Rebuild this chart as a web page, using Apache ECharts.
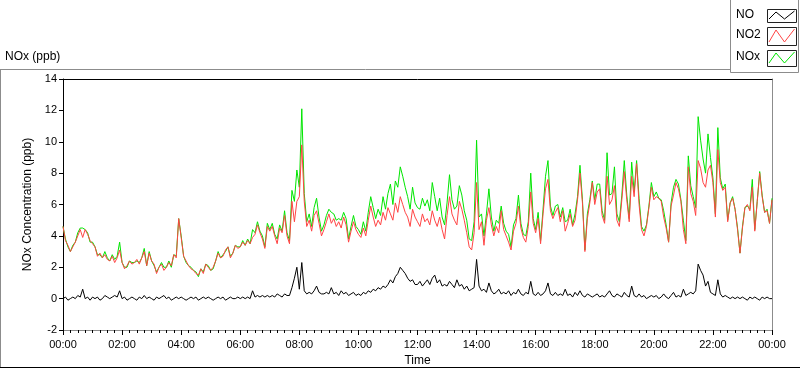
<!DOCTYPE html>
<html>
<head>
<meta charset="utf-8">
<script src="https://cdn.jsdelivr.net/npm/echarts@6/dist/echarts.min.js"></script>
<style>
  html, body { margin: 0; padding: 0; background: #fff; }
  #chart { width: 800px; height: 369px; }
</style>
</head>
<body>
<div id="chart"></div>
<script>
// ---- Data (5-minute samples, 00:00 .. 24:00) ----
const seriesNames = ['NO', 'NO2', 'NOx'];
const sampleMinutes = 5;

const NO2 = [
  4.6, 3.7, 3.4, 3.0, 3.3, 3.6, 4.0, 4.4, 3.9, 4.4, 4.1, 3.7,
  3.5, 3.3, 2.7, 2.9, 2.6, 2.8, 2.5, 2.4, 2.7, 2.3, 2.6, 3.1,
  2.3, 1.9, 2.1, 2.4, 2.2, 2.3, 2.5, 2.2, 2.6, 3.0, 2.1, 2.9,
  2.4, 2.2, 1.6, 2.0, 2.2, 1.8, 2.0, 2.3, 2.1, 2.8, 2.6, 5.1,
  3.9, 2.7, 2.4, 2.1, 1.9, 1.8, 1.6, 1.5, 1.9, 1.6, 2.2, 2.0,
  1.8, 2.0, 2.4, 2.9, 2.6, 2.7, 3.1, 3.3, 2.6, 2.9, 3.4, 3.2,
  3.3, 3.6, 3.4, 3.7, 3.5, 3.9, 4.1, 4.7, 4.2, 3.8, 3.2, 4.6,
  4.3, 4.6, 4.0, 3.5, 4.5, 4.2, 5.3, 4.0, 3.5, 6.2, 4.9, 6.2,
  6.5, 9.8, 6.2, 4.6, 5.0, 4.3, 5.3, 5.6, 4.8, 4.0, 4.4, 4.9,
  5.4, 4.8, 5.1, 4.6, 4.9, 4.5, 5.2, 4.7, 3.6, 4.3, 4.9, 4.4,
  4.1, 3.9, 4.5, 4.0, 5.0, 5.9, 5.2, 4.6, 5.0, 4.7, 5.5, 5.0,
  5.8, 5.4, 5.0, 6.1, 5.5, 6.5, 6.0, 5.5, 5.2, 4.6, 5.7, 5.2,
  4.9, 4.6, 5.4, 4.9, 5.1, 4.7, 5.6, 5.0, 4.6, 5.2, 4.4, 3.8,
  5.3, 6.5, 5.4, 5.0, 4.7, 6.2, 5.7, 5.0, 4.2, 3.3, 3.1, 4.2,
  7.4, 4.4, 4.9, 3.4, 5.0, 5.8, 4.7, 4.0, 4.6, 4.2, 5.6, 4.4,
  4.0, 3.6, 3.1, 4.3, 4.8, 5.9, 4.5, 3.9, 3.6, 4.6, 6.8, 4.8,
  4.2, 5.1, 3.5, 5.4, 7.0, 7.6, 5.6, 5.1, 5.5, 5.8, 4.9, 5.6,
  4.3, 4.8, 5.4, 4.6, 5.0, 6.3, 8.0, 6.1, 3.0, 5.1, 6.1, 7.4,
  6.0, 6.8, 7.0, 5.3, 4.8, 7.8, 6.0, 6.3, 7.2, 5.0, 4.6, 6.3,
  8.1, 6.3, 4.9, 7.8, 6.5, 8.6, 6.0, 4.4, 4.0, 4.6, 5.8, 7.1,
  6.3, 6.5, 6.4, 6.2, 5.2, 4.5, 3.6, 5.9, 6.6, 7.4, 7.0, 6.2,
  4.4, 3.5, 8.4, 6.7, 6.2, 5.3, 8.8, 8.3, 7.4, 7.1, 8.2, 8.5,
  7.4, 5.2, 9.5, 7.4, 6.9, 7.1, 4.9, 6.1, 6.4, 5.7, 4.4, 2.9,
  4.5, 5.8, 6.0, 5.6, 7.1, 4.3, 6.2, 8.0, 6.5, 5.5, 5.6, 4.8,
  6.3
];

const NO = [
  0.0, 0.1, -0.1, 0.0, 0.1, 0.0, 0.2, 0.1, 0.6, 0.0, 0.1, -0.1,
  0.1, 0.0, 0.1, -0.1, 0.0, 0.2, 0.1, 0.0, 0.1, 0.2, 0.1, 0.5,
  0.0, 0.1, -0.1, 0.0, 0.1, 0.0, -0.1, 0.1, 0.0, 0.2, 0.0, 0.1,
  0.0, -0.1, 0.1, 0.0, 0.1, 0.2, 0.0, 0.1, -0.1, 0.0, 0.1, 0.0,
  0.1, 0.0, -0.1, 0.0, 0.1, 0.0, 0.1, -0.1, 0.0, 0.1, 0.0, 0.1,
  0.0, -0.1, 0.0, 0.1, 0.0, 0.1, -0.1, 0.0, 0.1, 0.0, 0.0, 0.1,
  0.0, 0.1, 0.0, 0.1, 0.0, 0.5, 0.1, 0.2, 0.1, 0.2, 0.1, 0.2,
  0.1, 0.2, 0.1, 0.3, 0.2, 0.1, 0.3, 0.2, 0.2, 0.7, 1.3, 2.0,
  0.6, 2.3, 0.5, 0.3, 0.4, 0.3, 0.5, 0.8, 0.4, 0.3, 0.3, 0.4,
  0.3, 0.7, 0.3, 0.4, 0.2, 0.5, 0.3, 0.4, 0.2, 0.3, 0.4, 0.2,
  0.3, 0.2, 0.4, 0.3, 0.5, 0.4, 0.6, 0.5, 0.7, 0.6, 0.8, 0.7,
  0.9, 1.2, 1.0, 1.4, 1.6, 2.0, 1.8, 1.6, 1.3, 1.1, 1.2, 0.9,
  0.9, 1.1, 0.8, 1.0, 1.2, 0.9, 1.3, 1.5, 1.0, 1.2, 0.8, 0.9,
  0.8, 1.1, 0.9, 0.7, 1.2, 0.8, 0.9, 0.6, 0.8, 0.5, 0.6, 0.7,
  2.5, 0.8, 0.5, 0.6, 0.4, 1.0, 0.5, 0.3, 0.4, 0.6, 0.3, 0.4,
  0.3, 0.5, 0.2, 0.4, 0.3, 0.6, 0.3, 0.2, 0.4, 0.3, 1.1, 0.3,
  0.2, 0.4, 0.2, 0.3, 0.5, 1.0, 0.3, 0.2, 0.4, 0.2, 0.3, 0.2,
  0.6, 0.2, 0.3, 0.1, 0.4, 0.2, 0.5, 0.2, 0.1, 0.3, 0.2, 0.1,
  0.2, 0.3, 0.1, 0.2, 0.1, 0.3, 0.5, 0.2, 0.1, 0.3, 0.2, 0.1,
  0.4, 0.2, 0.1, 0.8, 0.2, 0.1, 0.3, 0.1, 0.2, 0.0, 0.1, 0.2,
  0.1, 0.2, 0.0, 0.1, 0.3, 0.1, 0.0, 0.2, 0.4, 0.1, 0.2, 0.1,
  0.6, 0.2, 0.3, 0.4, 0.3, 0.5, 2.2, 1.8, 1.5, 0.8, 1.1, 0.4,
  0.3, 0.2, 1.2, 0.3, 0.1, 0.2, 0.1, 0.0, 0.1, 0.0, 0.1, 0.0,
  0.1, 0.0, -0.1, 0.1, 0.0, 0.1, 0.0, -0.1, 0.1, 0.0, 0.1, 0.0,
  0.0
];

const NOX = [
  4.6, 3.8, 3.3, 3.0, 3.4, 3.6, 4.2, 4.5, 4.5, 4.4, 4.2, 3.6,
  3.6, 3.3, 2.8, 2.8, 2.6, 3.0, 2.6, 2.4, 2.8, 2.5, 2.7, 3.6,
  2.3, 2.0, 2.0, 2.4, 2.3, 2.3, 2.4, 2.3, 2.6, 3.2, 2.1, 3.0,
  2.4, 2.1, 1.7, 2.0, 2.3, 2.0, 2.0, 2.4, 2.0, 2.8, 2.7, 5.1,
  4.0, 2.7, 2.3, 2.1, 2.0, 1.8, 1.7, 1.4, 1.9, 1.7, 2.2, 2.1,
  1.8, 1.9, 2.4, 3.0, 2.6, 2.8, 3.0, 3.3, 2.7, 2.9, 3.4, 3.3,
  3.3, 3.7, 3.4, 3.8, 3.5, 4.4, 4.2, 4.9, 4.3, 4.0, 3.3, 4.8,
  4.4, 4.8, 4.1, 3.8, 4.7, 4.3, 5.6, 4.2, 3.7, 6.9, 6.2, 8.2,
  7.1, 12.1, 6.7, 4.9, 5.4, 4.6, 5.8, 6.4, 5.2, 4.3, 4.7, 5.3,
  5.7, 5.5, 5.4, 5.0, 5.1, 5.0, 5.5, 5.1, 3.8, 4.6, 5.3, 4.6,
  4.4, 4.1, 4.9, 4.3, 5.5, 6.5, 5.8, 5.1, 5.7, 5.3, 6.5, 5.7,
  6.7, 7.3, 6.0, 7.5, 7.1, 8.4, 7.8, 7.1, 6.5, 5.7, 7.1, 6.1,
  5.8, 5.7, 6.4, 5.9, 6.3, 5.6, 7.4, 6.5, 5.6, 6.4, 5.2, 4.7,
  6.1, 7.9, 6.3, 5.7, 5.9, 7.2, 6.6, 5.6, 5.0, 3.8, 3.7, 4.9,
  10.1, 5.2, 5.4, 4.0, 5.4, 7.0, 5.2, 4.3, 5.0, 4.8, 5.9, 4.8,
  4.3, 4.1, 3.3, 4.7, 5.1, 6.6, 4.8, 4.1, 4.0, 4.9, 8.0, 5.1,
  4.4, 5.5, 3.7, 5.7, 7.8, 8.8, 5.9, 5.3, 5.9, 6.0, 5.2, 5.8,
  4.9, 5.0, 5.7, 4.7, 5.4, 6.5, 8.5, 6.3, 3.1, 5.4, 6.3, 7.5,
  6.3, 7.3, 7.3, 5.6, 5.0, 9.3, 6.6, 6.7, 8.4, 5.4, 4.9, 6.6,
  8.8, 6.6, 5.1, 8.7, 6.8, 8.8, 6.4, 4.6, 4.3, 4.7, 5.9, 7.4,
  6.5, 6.8, 6.4, 6.3, 5.6, 4.7, 3.6, 6.1, 7.1, 7.6, 7.3, 6.3,
  5.0, 3.7, 9.1, 7.2, 6.5, 5.8, 11.6, 10.1, 8.9, 8.0, 10.5, 9.0,
  7.7, 5.4, 10.9, 7.7, 7.0, 7.3, 5.0, 6.1, 6.5, 5.7, 4.5, 2.9,
  4.6, 5.8, 5.9, 5.7, 7.6, 4.4, 6.2, 8.1, 6.6, 5.5, 5.7, 4.8,
  6.4
];

const yTicks = { min: -2, max: 14, interval: 2 };
const xTicks = { min: 0, max: 1440, interval: 120 };
const seriesColors = { NO: '#000000', NO2: '#ff4444', NOx: '#00e600' };

// ---- Build ----
function pairs(arr) { return arr.map((v, i) => [i * sampleMinutes, v]); }
function fmtTime(m) {
  const h = Math.floor(m / 60) % 24, mm = m % 60;
  return String(h).padStart(2, '0') + ':' + String(mm).padStart(2, '0');
}

const FONT = 'Liberation Sans';
const chart = echarts.init(document.getElementById('chart'), null, { renderer: 'canvas' });

function legendItem(name, color, ty, by) {
  return [
    { type: 'text', left: 736, top: (ty + by) / 2 - 7, style: { text: name, font: '12px "' + FONT + '"', fill: '#000' } },
    { type: 'rect', shape: { x: 767.5, y: ty + 0.5, width: 29, height: by - ty }, style: { fill: '#fff', stroke: '#222', lineWidth: 1 } },
    { type: 'polyline', shape: { points: [[769, by - 3], [776, ty + 3], [784.5, by - 3], [794.5, ty + 2]] }, style: { stroke: color, lineWidth: 1, fill: null } }
  ];
}

chart.setOption({
  animation: false,
  backgroundColor: '#fff',
  textStyle: { fontFamily: FONT },
  grid: { left: 63, top: 79, width: 709, height: 251, containLabel: false, outerBoundsMode: 'none' },
  xAxis: [{
    type: 'value', min: xTicks.min, max: xTicks.max, interval: xTicks.interval,
    name: 'Time', nameLocation: 'middle', nameGap: 24,
    nameTextStyle: { color: '#000', fontSize: 12, fontFamily: FONT },
    axisLine: { show: true, onZero: false, lineStyle: { color: '#8c8c8c', width: 1 } },
    axisTick: { show: true, length: 5, lineStyle: { color: '#000' } },
    minorTick: { show: true, splitNumber: 8, length: 3, lineStyle: { color: '#000' } },
    axisLabel: { color: '#000', fontSize: 11, fontFamily: FONT, margin: 9, formatter: fmtTime, showMaxLabel: true, showMinLabel: true },
    splitLine: { show: false }
  }, {
    type: 'value', position: 'top', min: xTicks.min, max: xTicks.max,
    axisLine: { show: true, onZero: false, lineStyle: { color: '#000', width: 1 } },
    axisTick: { show: false }, axisLabel: { show: false }, splitLine: { show: false }
  }],
  yAxis: [{
    type: 'value', min: yTicks.min, max: yTicks.max, interval: yTicks.interval,
    name: 'NOx Concentration (ppb)', nameLocation: 'middle', nameGap: 26, nameRotate: 90,
    nameTextStyle: { color: '#000', fontSize: 12, fontFamily: FONT },
    axisLine: { show: true, onZero: false, lineStyle: { color: '#000', width: 1 } },
    axisTick: { show: true, length: 4, lineStyle: { color: '#000' } },
    axisLabel: { color: '#000', fontSize: 11, fontFamily: FONT, margin: 6 },
    splitLine: { show: false }
  }, {
    type: 'value', position: 'right', min: yTicks.min, max: yTicks.max,
    axisLine: { show: true, onZero: false, lineStyle: { color: '#8c8c8c', width: 1 } },
    axisTick: { show: false }, axisLabel: { show: false }, splitLine: { show: false }
  }],
  series: [
    { name: seriesNames[2], type: 'line', data: pairs(NOX), showSymbol: false, symbol: 'none',
      lineStyle: { color: seriesColors.NOx, width: 1 }, itemStyle: { color: seriesColors.NOx }, z: 2 },
    { name: seriesNames[1], type: 'line', data: pairs(NO2), showSymbol: false, symbol: 'none',
      lineStyle: { color: seriesColors.NO2, width: 1 }, itemStyle: { color: seriesColors.NO2 }, z: 3 },
    { name: seriesNames[0], type: 'line', data: pairs(NO), showSymbol: false, symbol: 'none',
      lineStyle: { color: seriesColors.NO, width: 1 }, itemStyle: { color: seriesColors.NO }, z: 4 }
  ],
  graphic: [
    // outer panel frame
    { type: 'line', shape: { x1: 0, y1: 69.5, x2: 731, y2: 69.5 }, style: { stroke: '#8c8c8c', lineWidth: 1 } },
    { type: 'line', shape: { x1: 0.5, y1: 69.5, x2: 0.5, y2: 368 }, style: { stroke: '#8c8c8c', lineWidth: 1 } },
    { type: 'line', shape: { x1: 0, y1: 367.5, x2: 800, y2: 367.5 }, style: { stroke: '#000', lineWidth: 1 } },
    // panel title
    { type: 'text', left: 5, top: 51, style: { text: 'NOx (ppb)', font: '12px "' + FONT + '"', fill: '#000' } },
    // legend box
    { type: 'rect', shape: { x: 730.5, y: -1, width: 68, height: 73.5 }, style: { fill: '#fff', stroke: '#8c8c8c', lineWidth: 1 } },
    ...legendItem(seriesNames[0], seriesColors.NO, 9, 22),
    ...legendItem(seriesNames[1], seriesColors.NO2, 27, 45),
    ...legendItem(seriesNames[2], seriesColors.NOx, 50, 66)
  ]
});
</script>
</body>
</html>
